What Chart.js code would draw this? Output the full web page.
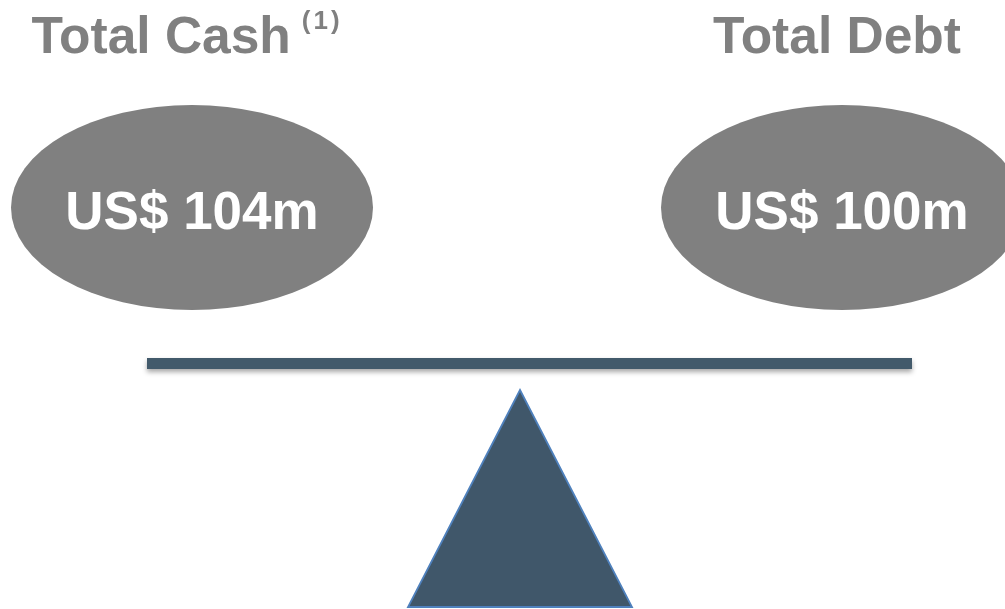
<!DOCTYPE html>
<html>
<head>
<meta charset="utf-8">
<script src="https://cdn.jsdelivr.net/npm/chart.js@4/dist/chart.umd.min.js"></script>
<style>
  html, body { margin: 0; padding: 0; background: #ffffff; }
  #wrap { width: 1005px; height: 609px; position: relative; }
</style>
</head>
<body>
<div id="wrap"><canvas id="c"></canvas></div>
<script>
// ---- data ----
const categories = ["Total Cash", "Total Debt"];
const footnotes = ["(1)", ""];
const amountsUSDm = [104, 100];
const panLevel = [1, 1];           // both pans level: the scale is balanced
const currency = "US$";
const unit = "m";

// ---- styles ----
const GREY = "#808080";
const SLATE = "#425a6b";
const FONT = "'Liberation Sans', Arial, sans-serif";

// ellipse pan used as point style
function makeEllipse(w, h, color) {
  const cv = document.createElement("canvas");
  cv.width = w; cv.height = h;
  const g = cv.getContext("2d");
  g.fillStyle = color;
  g.beginPath();
  g.ellipse(w / 2, h / 2, w / 2 - 1, h / 2 - 1, 0, 0, Math.PI * 2);
  g.fill();
  return cv;
}
const panStyle = makeEllipse(364, 207, GREY);

// balance beam + fulcrum, drawn behind the pans
const balancePlugin = {
  id: "balance",
  beforeDatasetsDraw(chart) {
    const ctx = chart.ctx;
    const a = chart.chartArea;
    ctx.save();
    ctx.shadowColor = "rgba(0,0,0,0.35)";
    ctx.shadowBlur = 5;
    ctx.shadowOffsetY = 3;
    ctx.fillStyle = SLATE;
    ctx.fillRect(a.left - 45, 358, (a.right + 70) - (a.left - 45), 11);
    ctx.restore();
    ctx.save();
    ctx.beginPath();
    ctx.moveTo(520, 390);
    ctx.lineTo(632, 607);
    ctx.lineTo(408, 607);
    ctx.closePath();
    ctx.fillStyle = "#40576a";
    ctx.fill();
    ctx.lineWidth = 1.8;
    ctx.strokeStyle = "#4f81bd";
    ctx.stroke();
    ctx.restore();
  }
};

// titles and amount labels
const labelPlugin = {
  id: "labels",
  afterDatasetsDraw(chart) {
    const ctx = chart.ctx;
    const meta = chart.getDatasetMeta(0);
    ctx.save();
    meta.data.forEach((el, i) => {
      ctx.fillStyle = "#ffffff";
      ctx.font = "bold 53px " + FONT;
      ctx.textAlign = "center";
      ctx.textBaseline = "alphabetic";
      ctx.fillText(currency + " " + amountsUSDm[i] + unit, el.x, el.y + 21);

      ctx.font = "bold 51.5px " + FONT;
      const tw = ctx.measureText(categories[i]).width;
      let sw = 0, gap = 0;
      if (footnotes[i]) {
        ctx.font = "bold 26px " + FONT;
        ctx.letterSpacing = "3px";
        sw = ctx.measureText(footnotes[i]).width;
        ctx.letterSpacing = "0px";
        gap = 11;
      }
      const total = tw + gap + sw;
      const left = el.x - 5 - total / 2;
      ctx.fillStyle = GREY;
      ctx.textAlign = "left";
      ctx.font = "bold 51.5px " + FONT;
      ctx.fillText(categories[i], left, 53);
      if (footnotes[i]) {
        ctx.font = "bold 26px " + FONT;
        ctx.letterSpacing = "3px";
        ctx.fillText(footnotes[i], left + tw + gap, 28.5);
        ctx.letterSpacing = "0px";
      }
    });
    ctx.restore();
  }
};

new Chart(document.getElementById("c"), {
  type: "line",
  data: {
    labels: categories,
    datasets: [{
      label: "Balance",
      data: panLevel,
      showLine: false,
      pointStyle: panStyle,
      pointRadius: 10,
      pointHoverRadius: 10,
      clip: false
    }]
  },
  options: {
    responsive: true,
    maintainAspectRatio: false,
    animation: false,
    events: [],
    devicePixelRatio: 1,
    layout: { padding: { left: 192, right: 163, top: 105, bottom: 299 } },
    plugins: { legend: { display: false }, tooltip: { enabled: false }, title: { display: false } },
    scales: {
      x: { type: "category", display: false, offset: false },
      y: { type: "linear", display: false, min: 0, max: 2 }
    }
  },
  plugins: [balancePlugin, labelPlugin]
});
</script>
</body>
</html>
